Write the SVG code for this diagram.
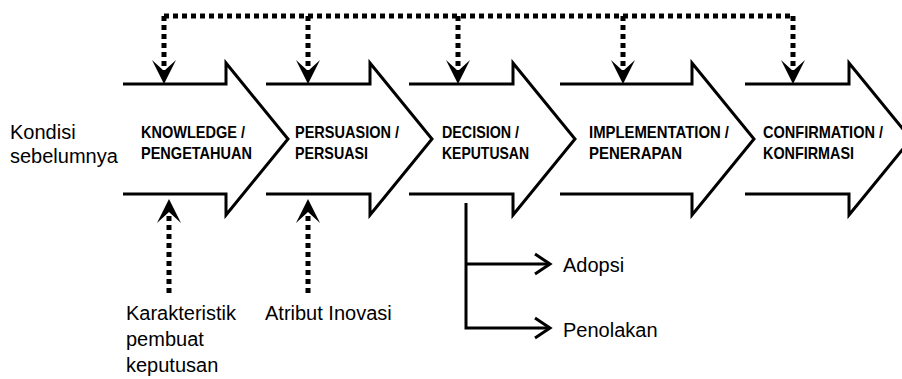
<svg xmlns="http://www.w3.org/2000/svg" width="902" height="379" viewBox="0 0 902 379">
<style>
.stage{fill:none;stroke:#000;stroke-width:3;stroke-linejoin:miter}
.lbl{font-family:"Liberation Sans",Arial,sans-serif;font-weight:bold;font-size:16.5px;fill:#000}
.txt{font-family:"Liberation Sans",Arial,sans-serif;font-size:20px;fill:#000}
.dot{fill:none;stroke:#000;stroke-width:5;stroke-dasharray:5 4}
.solid{fill:none;stroke:#000;stroke-width:3}
</style>
<defs>
<marker id="ah" viewBox="0 0 24 24" refX="11" refY="12" markerWidth="24" markerHeight="24" markerUnits="userSpaceOnUse" orient="auto">
<path d="M0,0 L24,12 L0,24 L11,12 Z" fill="#000"/>
</marker>
<marker id="chev" viewBox="-2 -2 20 24" refX="15" refY="10" markerWidth="20" markerHeight="24" markerUnits="userSpaceOnUse" orient="auto">
<path d="M0,0 L15,10 L0,20" fill="none" stroke="#000" stroke-width="3"/>
</marker>
</defs>
<rect width="902" height="379" fill="#fff"/>
<g id="knowledge">
<path class="stage" d="M123,84 H226 V63 L288,139 L226,215 V194 H123"/>
<text class="lbl" x="141" y="138" textLength="104" lengthAdjust="spacingAndGlyphs">KNOWLEDGE /</text>
<text class="lbl" x="141" y="159" textLength="111" lengthAdjust="spacingAndGlyphs">PENGETAHUAN</text>
</g>
<g id="persuasion">
<path class="stage" d="M266,84 H370 V63 L432,139 L370,215 V194 H266"/>
<text class="lbl" x="295" y="138" textLength="104" lengthAdjust="spacingAndGlyphs">PERSUASION /</text>
<text class="lbl" x="295" y="159" textLength="73" lengthAdjust="spacingAndGlyphs">PERSUASI</text>
</g>
<g id="decision">
<path class="stage" d="M409,84 H513 V63 L575,139 L513,215 V194 H409"/>
<text class="lbl" x="442" y="138" textLength="77" lengthAdjust="spacingAndGlyphs">DECISION /</text>
<text class="lbl" x="442" y="159" textLength="87" lengthAdjust="spacingAndGlyphs">KEPUTUSAN</text>
</g>
<g id="implementation">
<path class="stage" d="M560,84 H692 V63 L754,139 L692,215 V194 H560"/>
<text class="lbl" x="589" y="138" textLength="140" lengthAdjust="spacingAndGlyphs">IMPLEMENTATION /</text>
<text class="lbl" x="589" y="159" textLength="93" lengthAdjust="spacingAndGlyphs">PENERAPAN</text>
</g>
<g id="confirmation">
<path class="stage" d="M745,84 H849 V63 L911,139 L849,215 V194 H745"/>
<text class="lbl" x="763" y="138" textLength="120" lengthAdjust="spacingAndGlyphs">CONFIRMATION /</text>
<text class="lbl" x="763" y="159" textLength="91" lengthAdjust="spacingAndGlyphs">KONFIRMASI</text>
</g>
<g id="kondisi">
<text class="txt" x="10" y="139">Kondisi</text>
<text class="txt" x="10" y="163">sebelumnya</text>
</g>
<g id="karakteristik">
<text class="txt" x="126" y="320">Karakteristik</text>
<text class="txt" x="126" y="346">pembuat</text>
<text class="txt" x="126" y="372">keputusan</text>
</g>
<g id="atribut">
<text class="txt" x="265" y="320">Atribut Inovasi</text>
</g>
<g id="adopsi">
<text class="txt" x="563" y="272">Adopsi</text>
</g>
<g id="penolakan">
<text class="txt" x="563" y="337">Penolakan</text>
</g>
<g id="connectors">
<path class="dot" d="M164,16 H793"/>
<path class="dot" d="M164,16 V71" marker-end="url(#ah)"/>
<path class="dot" d="M308,16 V71" marker-end="url(#ah)"/>
<path class="dot" d="M458,16 V71" marker-end="url(#ah)"/>
<path class="dot" d="M623,16 V71" marker-end="url(#ah)"/>
<path class="dot" d="M793,16 V71" marker-end="url(#ah)"/>
<path class="dot" d="M169,293 V212" marker-end="url(#ah)"/>
<path class="dot" d="M308,293 V212" marker-end="url(#ah)"/>
<path class="solid" d="M466,203 V328 H550" marker-end="url(#chev)"/>
<path class="solid" d="M466,264 H550" marker-end="url(#chev)"/>
</g>
</svg>
